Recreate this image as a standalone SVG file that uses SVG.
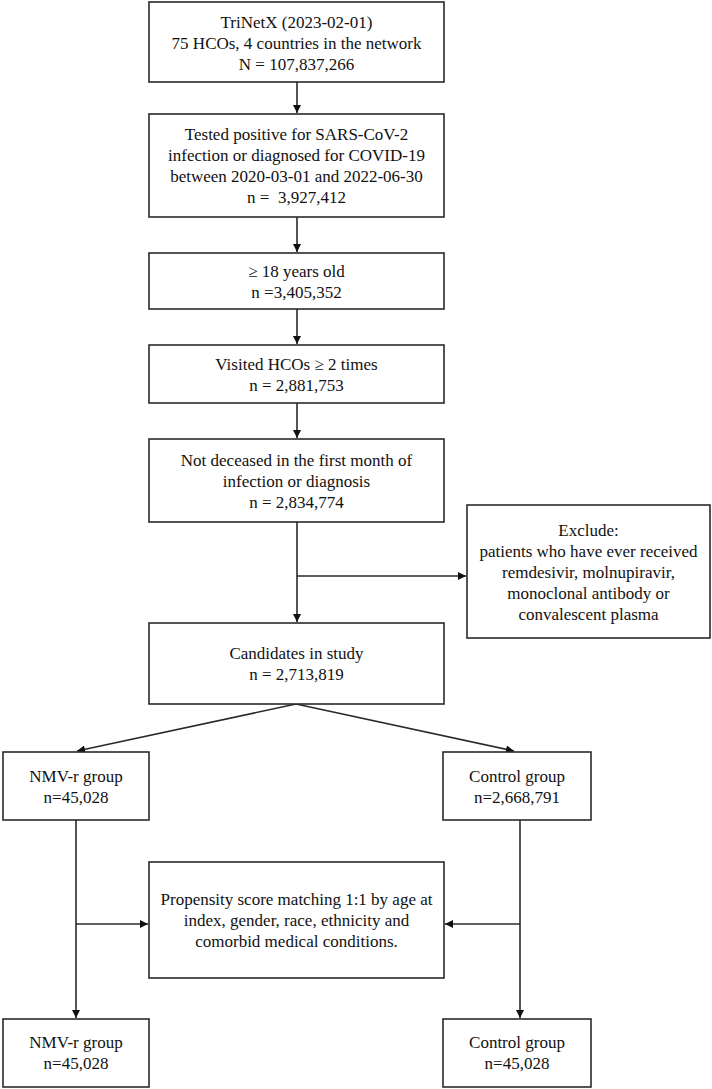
<svg xmlns="http://www.w3.org/2000/svg" width="712" height="1089" viewBox="0 0 712 1089">
<style>
  .box { fill: #ffffff; stroke: #2a2a2a; stroke-width: 1.6; }
  .t { font-family: "Liberation Serif", "Times New Roman", serif; font-size: 17px; fill: #111; text-anchor: middle; }
  .c { fill: none; stroke: #2a2a2a; stroke-width: 1.6; }
</style>
<defs>
  <marker id="arr" viewBox="0 0 10 10" refX="10" refY="5" markerWidth="9" markerHeight="8" markerUnits="userSpaceOnUse" orient="auto">
    <path d="M0,0 L10,5 L0,10 z" fill="#111"/>
  </marker>
</defs>
<rect width="712" height="1089" fill="#ffffff"/>

<g id="connectors">
  <line class="c" x1="297" y1="82" x2="297" y2="113" marker-end="url(#arr)"/>
  <line class="c" x1="297" y1="217" x2="297" y2="252" marker-end="url(#arr)"/>
  <line class="c" x1="297" y1="309" x2="297" y2="344" marker-end="url(#arr)"/>
  <line class="c" x1="297" y1="403" x2="297" y2="438" marker-end="url(#arr)"/>
  <line class="c" x1="297" y1="522" x2="297" y2="622" marker-end="url(#arr)"/>
  <line class="c" x1="297" y1="576" x2="466" y2="576" marker-end="url(#arr)"/>
  <line class="c" x1="296" y1="704" x2="77" y2="751" marker-end="url(#arr)"/>
  <line class="c" x1="296" y1="704" x2="514" y2="751" marker-end="url(#arr)"/>
  <line class="c" x1="76" y1="820" x2="76" y2="1018" marker-end="url(#arr)"/>
  <line class="c" x1="76" y1="924" x2="148" y2="924" marker-end="url(#arr)"/>
  <line class="c" x1="520" y1="820" x2="520" y2="1018" marker-end="url(#arr)"/>
  <line class="c" x1="520" y1="924" x2="445" y2="924" marker-end="url(#arr)"/>
</g>

<g id="n1">
  <rect class="box" x="149" y="2" width="295" height="80"/>
  <text class="t" x="296.5" y="28">TriNetX (2023-02-01)</text>
  <text class="t" x="296.5" y="49">75 HCOs, 4 countries in the network</text>
  <text class="t" x="296.5" y="70">N = 107,837,266</text>
</g>
<g id="n2">
  <rect class="box" x="149" y="114" width="295" height="103"/>
  <text class="t" x="296.5" y="140">Tested positive for SARS-CoV-2</text>
  <text class="t" x="296.5" y="161">infection or diagnosed for COVID-19</text>
  <text class="t" x="296.5" y="182">between 2020-03-01 and 2022-06-30</text>
  <text class="t" x="296.5" y="203" xml:space="preserve">n =  3,927,412</text>
</g>
<g id="n3">
  <rect class="box" x="149" y="253" width="295" height="56"/>
  <text class="t" x="296.5" y="277">≥ 18 years old</text>
  <text class="t" x="296.5" y="298">n =3,405,352</text>
</g>
<g id="n4">
  <rect class="box" x="149" y="345" width="295" height="58"/>
  <text class="t" x="296.5" y="370">Visited HCOs ≥ 2 times</text>
  <text class="t" x="296.5" y="391">n = 2,881,753</text>
</g>
<g id="n5">
  <rect class="box" x="149" y="439" width="295" height="83"/>
  <text class="t" x="296.5" y="466">Not deceased in the first month of</text>
  <text class="t" x="296.5" y="487">infection or diagnosis</text>
  <text class="t" x="296.5" y="508">n = 2,834,774</text>
</g>
<g id="exclude">
  <rect class="box" x="467" y="505" width="243" height="133"/>
  <text class="t" x="588.5" y="536">Exclude:</text>
  <text class="t" x="588.5" y="557">patients who have ever received</text>
  <text class="t" x="588.5" y="578">remdesivir, molnupiravir,</text>
  <text class="t" x="588.5" y="599">monoclonal antibody or</text>
  <text class="t" x="588.5" y="620">convalescent plasma</text>
</g>
<g id="candidates">
  <rect class="box" x="149" y="623" width="295" height="81"/>
  <text class="t" x="296.5" y="659">Candidates in study</text>
  <text class="t" x="296.5" y="680">n = 2,713,819</text>
</g>
<g id="nmv1">
  <rect class="box" x="3" y="752" width="146" height="68"/>
  <text class="t" x="76" y="782">NMV-r group</text>
  <text class="t" x="76" y="803">n=45,028</text>
</g>
<g id="ctl1">
  <rect class="box" x="443" y="752" width="148" height="68"/>
  <text class="t" x="517" y="782">Control group</text>
  <text class="t" x="517" y="803">n=2,668,791</text>
</g>
<g id="psm">
  <rect class="box" x="149" y="862" width="295" height="116"/>
  <text class="t" x="296.5" y="905">Propensity score matching 1:1 by age at</text>
  <text class="t" x="296.5" y="926">index, gender, race, ethnicity and</text>
  <text class="t" x="296.5" y="947">comorbid medical conditions.</text>
</g>
<g id="nmv2">
  <rect class="box" x="3" y="1019" width="146" height="68"/>
  <text class="t" x="76" y="1048">NMV-r group</text>
  <text class="t" x="76" y="1069">n=45,028</text>
</g>
<g id="ctl2">
  <rect class="box" x="443" y="1019" width="148" height="68"/>
  <text class="t" x="517" y="1048">Control group</text>
  <text class="t" x="517" y="1069">n=45,028</text>
</g>
</svg>
